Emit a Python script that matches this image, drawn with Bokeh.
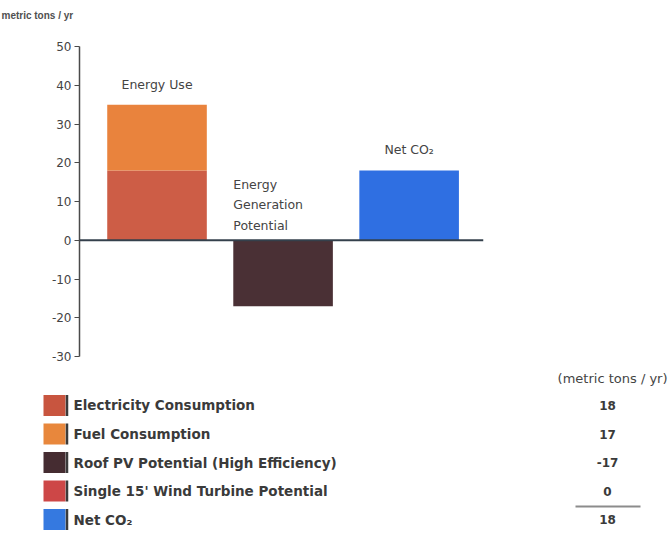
from bokeh.plotting import figure
from bokeh.layouts import column
from bokeh.models import Range1d, ColumnDataSource, FixedTicker, Span, PrintfTickFormatter
from bokeh.core.properties import value
from bokeh.embed import file_html
from bokeh.resources import INLINE

# Annual CO2 by source (metric tons / yr)
sources = [
    "Electricity Consumption",
    "Fuel Consumption",
    "Roof PV Potential (High Efficiency)",
    "Single 15' Wind Turbine Potential",
    "Net CO\u2082",
]
amounts = [18, 17, -17, 0, 18]
source_group = [1, 1, 2, 2, 3]
swatch_colors = ["#c8553f", "#e8873c", "#452c31", "#cd4747", "#3579e0"]
bar_colors = ["#cd5d46", "#e9833d", "#4a3035", "#cd4747", "#2f6fe2"]

group_ids = [1, 2, 3]
group_names = ["Energy Use", "Energy\nGeneration\nPotential", "Net CO\u2082"]
y_ticks = [-30, -20, -10, 0, 10, 20, 30, 40, 50]
unit_label = "metric tons / yr"
table_header = "(metric tons / yr)"

FONT = "DejaVu Sans"
BAR_W = 0.79
W = 668


def blank(height, x_range, y_range, **kw):
    f = figure(width=W, height=height, x_range=x_range, y_range=y_range,
               title=None, toolbar_location=None, output_backend="svg", **kw)
    f.frame_align = False
    f.outline_line_color = None
    f.background_fill_color = "white"
    f.border_fill_color = "white"
    return f


# stack each source on top of (or below) the previous one in its group
running = {}
bottoms, tops = [], []
for g, a in zip(source_group, amounts):
    base = running.get(g, 0)
    lo, hi = sorted((base, base + a))
    bottoms.append(lo)
    tops.append(hi)
    running[g] = base + a

bars = ColumnDataSource(dict(x=source_group, bottom=bottoms, top=tops, color=bar_colors))

# ---- unit caption strip ----
head = blank(30, Range1d(0, W), Range1d(30, 0), x_axis_location=None, y_axis_location=None,
             min_border=0, min_border_left=0, min_border_right=0,
             min_border_top=0, min_border_bottom=0)
head.grid.visible = False
head.text(x=[1], y=[15], text=[unit_label], text_align="left", text_baseline="middle",
          text_font=value("Liberation Sans"), text_font_size="10px",
          text_font_style="bold", text_color="#505050")

# ---- bar chart ----
p = blank(340, Range1d(0.385, 3.59), Range1d(-30, 50), x_axis_location=None,
          min_border_left=79, min_border_right=185, min_border_top=16, min_border_bottom=14)
p.grid.grid_line_color = None

p.vbar(x="x", bottom="bottom", top="top", width=BAR_W, fill_color="color",
       line_color=None, source=bars)

p.add_layout(Span(location=0, dimension="width", line_color="#34404c", line_width=2))

yax = p.yaxis[0]
yax.ticker = FixedTicker(ticks=y_ticks)
yax.formatter = PrintfTickFormatter(format="%d")
yax.axis_line_color = "#4a4a4a"
yax.axis_line_width = 1.5
yax.major_tick_line_color = "#4a4a4a"
yax.major_tick_out = 5
yax.major_tick_in = 0
yax.minor_tick_line_color = None
yax.major_label_text_font = FONT
yax.major_label_text_font_size = "12px"
yax.major_label_text_color = "#444444"
yax.major_label_standoff = 3

# group captions
group_top = [max(t for t, g in zip(tops, source_group) if g == gid) for gid in group_ids]
centered = [0, 2]
p.text(x=[group_ids[i] for i in centered], y=[group_top[i] + 5.3 for i in centered],
       text=[group_names[i] for i in centered], text_align="center", text_baseline="middle",
       text_font=value(FONT), text_font_size="12.5px", text_color="#444444")
p.text(x=[group_ids[1] - BAR_W / 2], y=[2.0], text=[group_names[1]],
       text_align="left", text_baseline="bottom", text_line_height=1.35,
       text_font=value(FONT), text_font_size="12.5px", text_color="#444444")

# ---- legend / value table ----
rows = list(range(len(sources)))
q = blank(174, Range1d(0, W), Range1d(4.877, -1.228), x_axis_location=None,
          y_axis_location=None, min_border=0, min_border_left=0, min_border_right=0,
          min_border_top=0, min_border_bottom=0)
q.grid.visible = False

q.rect(x=54, y=rows, width=22, height=0.74, fill_color=swatch_colors, line_color=None)
q.rect(x=66.5, y=rows, width=2.5, height=0.74, fill_color="#3b3b3b", line_color=None)
q.text(x=73, y=rows, text=sources, text_align="left", text_baseline="middle",
       text_font=value(FONT), text_font_style="bold", text_font_size="13.5px",
       text_color="#3a3a3a")

q.text(x=[667], y=[-0.95], text=[table_header], text_align="right", text_baseline="middle",
       text_font=value(FONT), text_font_size="13px", text_color="#444444")
q.text(x=607, y=rows, text=[str(a) for a in amounts], text_align="center",
       text_baseline="middle", text_font=value(FONT), text_font_style="bold",
       text_font_size="12px", text_color="#3a3a3a")
q.segment(x0=[575], x1=[640], y0=[len(rows) - 1.46], y1=[len(rows) - 1.46],
          line_color="#8c8c8c", line_width=2)

layout = column(head, p, q, spacing=0)
open("out.html", "w").write(file_html(layout, INLINE))
